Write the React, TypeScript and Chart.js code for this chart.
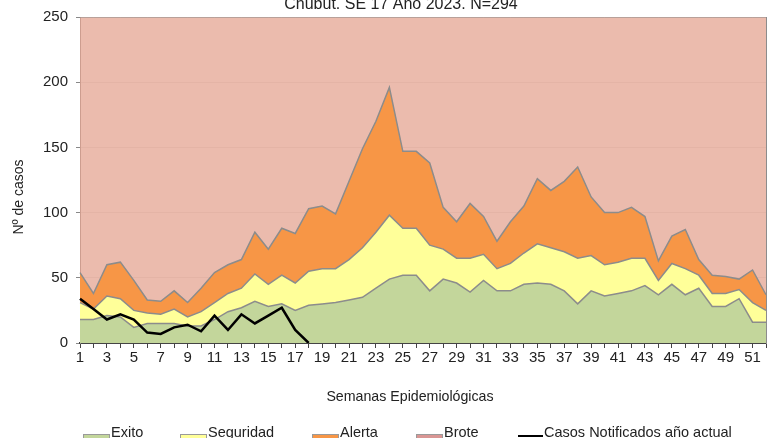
import React, { useEffect, useRef } from "react";
import { Chart, registerables } from "chart.js";

Chart.register(...registerables);

const FONT = '"Liberation Sans", Arial, sans-serif';

const TITLE = "Chubut. SE 17 Año 2023. N=294";
const X_TITLE = "Semanas Epidemiológicas";
const Y_TITLE = "Nº de casos";

const weeks = [
  "1", "2", "3", "4", "5", "6", "7", "8", "9", "10", "11", "12", "13",
  "14", "15", "16", "17", "18", "19", "20", "21", "22", "23", "24", "25", "26",
  "27", "28", "29", "30", "31", "32", "33", "34", "35", "36", "37", "38", "39",
  "40", "41", "42", "43", "44", "45", "46", "47", "48", "49", "50", "51", "52",
];

const exito = [
  18, 18, 21, 20, 12, 15, 15, 15, 13, 13, 18, 24, 27,
  32, 28, 30, 25, 29, 30, 31, 33, 35, 42, 49, 52, 52,
  40, 49, 46, 39, 48, 40, 40, 45, 46, 45, 40, 30, 40,
  36, 38, 40, 44, 37, 45, 37, 42, 28, 28, 34, 16, 16,
];

const seguridad = [
  31, 26, 36, 34, 25, 23, 22, 26, 20, 24, 31, 38, 42,
  53, 45, 52, 46, 55, 57, 57, 64, 73, 85, 98, 88, 88,
  75, 72, 65, 65, 68, 57, 61, 69, 76, 73, 70, 65, 67,
  60, 62, 65, 65, 48, 61, 57, 52, 38, 38, 41, 31, 25,
];

const alerta = [
  54, 38, 60, 62, 48, 33, 32, 40, 31, 42, 54, 60, 64,
  85, 72, 88, 84, 103, 105, 99, 124, 149, 170, 196, 147, 147,
  138, 104, 93, 107, 97, 78, 93, 105, 126, 117, 124, 135, 112,
  100, 100, 104, 97, 63, 82, 87, 64, 52, 51, 49, 56, 37,
];

const brote = [
  250, 250, 250, 250, 250, 250, 250, 250, 250, 250, 250, 250, 250,
  250, 250, 250, 250, 250, 250, 250, 250, 250, 250, 250, 250, 250,
  250, 250, 250, 250, 250, 250, 250, 250, 250, 250, 250, 250, 250,
  250, 250, 250, 250, 250, 250, 250, 250, 250, 250, 250, 250, 250,
];

const casos: (number | null)[] = [
  34, 26, 18, 22, 18, 8, 7, 12, 14, 9, 21, 10, 22,
  15, 21, 27, 10, 0, null, null, null, null, null, null, null, null,
  null, null, null, null, null, null, null, null, null, null, null, null, null,
  null, null, null, null, null, null, null, null, null, null, null, null, null,
];

const yTicks = [0, 50, 100, 150, 200, 250];

const COLORS = {
  exito: "#C3D69B",
  seguridad: "#FFFF99",
  alerta: "#F79646",
  brote: "rgba(228,164,146,0.75)",
  broteLegend: "#D99694",
  edge: "#8C8C8C",
  text: "#222222",
};

// legend layout (x of each item's symbol)
const legendX = [83, 180, 312, 416, 518];

const overlayPlugin = {
  id: "overlayText",
  afterDraw(chart: any) {
    const ctx = chart.ctx as CanvasRenderingContext2D;
    ctx.save();
    ctx.fillStyle = COLORS.text;
    ctx.textBaseline = "alphabetic";

    // title
    ctx.font = `16px ${FONT}`;
    ctx.textAlign = "center";
    ctx.fillText(TITLE, 401, 9);

    // x axis title
    ctx.font = `14.2px ${FONT}`;
    ctx.fillText(X_TITLE, 410, 400.5);

    // y axis title
    ctx.save();
    ctx.translate(22.5, 197);
    ctx.rotate(-Math.PI / 2);
    ctx.font = `14px ${FONT}`;
    ctx.fillText(Y_TITLE, 0, 0);
    ctx.restore();

    // legend
    ctx.font = `14.5px ${FONT}`;
    ctx.textAlign = "left";
    const ds = chart.data.datasets;
    for (let i = 0; i < ds.length; i++) {
      const x = legendX[i];
      const d = ds[i];
      if (d.fill === false) {
        ctx.strokeStyle = "#000";
        ctx.lineWidth = 2;
        ctx.beginPath();
        ctx.moveTo(x, 436);
        ctx.lineTo(x + 25, 436);
        ctx.stroke();
        ctx.fillStyle = COLORS.text;
        ctx.fillText(d.label, x + 26, 436.5);
      } else {
        ctx.fillStyle = d.legendColor || d.backgroundColor;
        ctx.fillRect(x, 434, 27, 9);
        ctx.strokeStyle = "#9A9A9A";
        ctx.lineWidth = 1;
        ctx.strokeRect(x + 0.5, 434.5, 26, 8);
        ctx.fillStyle = COLORS.text;
        ctx.fillText(d.label, x + 28, 436.5);
      }
    }
    ctx.restore();
  },
};

export default function App() {
  const ref = useRef<HTMLCanvasElement | null>(null);

  useEffect(() => {
    if (!ref.current) return;
    Chart.defaults.font.family = FONT;
    const area = (label: string, data: number[], bg: string, order: number, extra: any = {}) => ({
      label,
      data,
      backgroundColor: bg,
      borderColor: COLORS.edge,
      borderWidth: 1.5,
      fill: "origin",
      pointRadius: 0,
      tension: 0,
      order,
      ...extra,
    });
    const chart = new Chart(ref.current, {
      type: "line",
      data: {
        labels: weeks,
        datasets: [
          area("Exito", exito, COLORS.exito, 1),
          area("Seguridad", seguridad, COLORS.seguridad, 2),
          area("Alerta", alerta, COLORS.alerta, 3),
          area("Brote", brote, COLORS.brote, 4, { legendColor: COLORS.broteLegend, borderWidth: 1 }),
          {
            label: "Casos Notificados año actual",
            data: casos,
            borderColor: "#000000",
            backgroundColor: "#000000",
            borderWidth: 2.5,
            fill: false,
            pointRadius: 0,
            tension: 0,
            spanGaps: false,
            order: 0,
          } as any,
        ],
      },
      options: {
        animation: false,
        responsive: false,
        maintainAspectRatio: false,
        layout: { padding: { top: 15, right: 5, bottom: 0, left: 0 } },
        plugins: {
          legend: { display: false },
          title: { display: false },
          tooltip: { enabled: false },
        },
        scales: {
          x: {
            type: "category",
            offset: false,
            grid: {
              display: true,
              drawOnChartArea: false,
              drawTicks: true,
              tickLength: 5,
              color: "#444444",
            },
            border: { display: true, color: "#444444", width: 2 },
            ticks: {
              autoSkip: false,
              maxRotation: 0,
              minRotation: 0,
              padding: 1,
              color: COLORS.text,
              font: { size: 15, family: FONT },
              callback: (_v: any, i: number) => (i % 2 === 0 ? weeks[i] : ""),
            },
            afterFit: (s: any) => {
              s.height = 95;
            },
          },
          y: {
            min: 0,
            max: 250,
            afterBuildTicks: (s: any) => {
              s.ticks = yTicks.map((v) => ({ value: v }));
            },
            grid: {
              color: "#E2E2E2",
              drawTicks: true,
              tickLength: 4,
              tickColor: "#888888",
            },
            border: { display: true, color: "#888888", width: 1 },
            ticks: {
              padding: 8,
              color: COLORS.text,
              font: { size: 15, family: FONT },
            },
            afterFit: (s: any) => {
              s.width = 80;
            },
          },
          y2: {
            position: "right",
            min: 0,
            max: 250,
            grid: { display: false, drawTicks: false },
            border: { display: true, color: COLORS.edge, width: 1 },
            ticks: { display: false },
            afterFit: (s: any) => {
              s.width = 0;
            },
          },
        },
      } as any,
      plugins: [overlayPlugin],
    });
    return () => chart.destroy();
  }, []);

  return (
    <div style={{ position: "absolute", left: 0, top: 0, width: 771, height: 438 }}>
      <canvas ref={ref} width={771} height={438} style={{ display: "block", width: 771, height: 438 }} />
    </div>
  );
}
